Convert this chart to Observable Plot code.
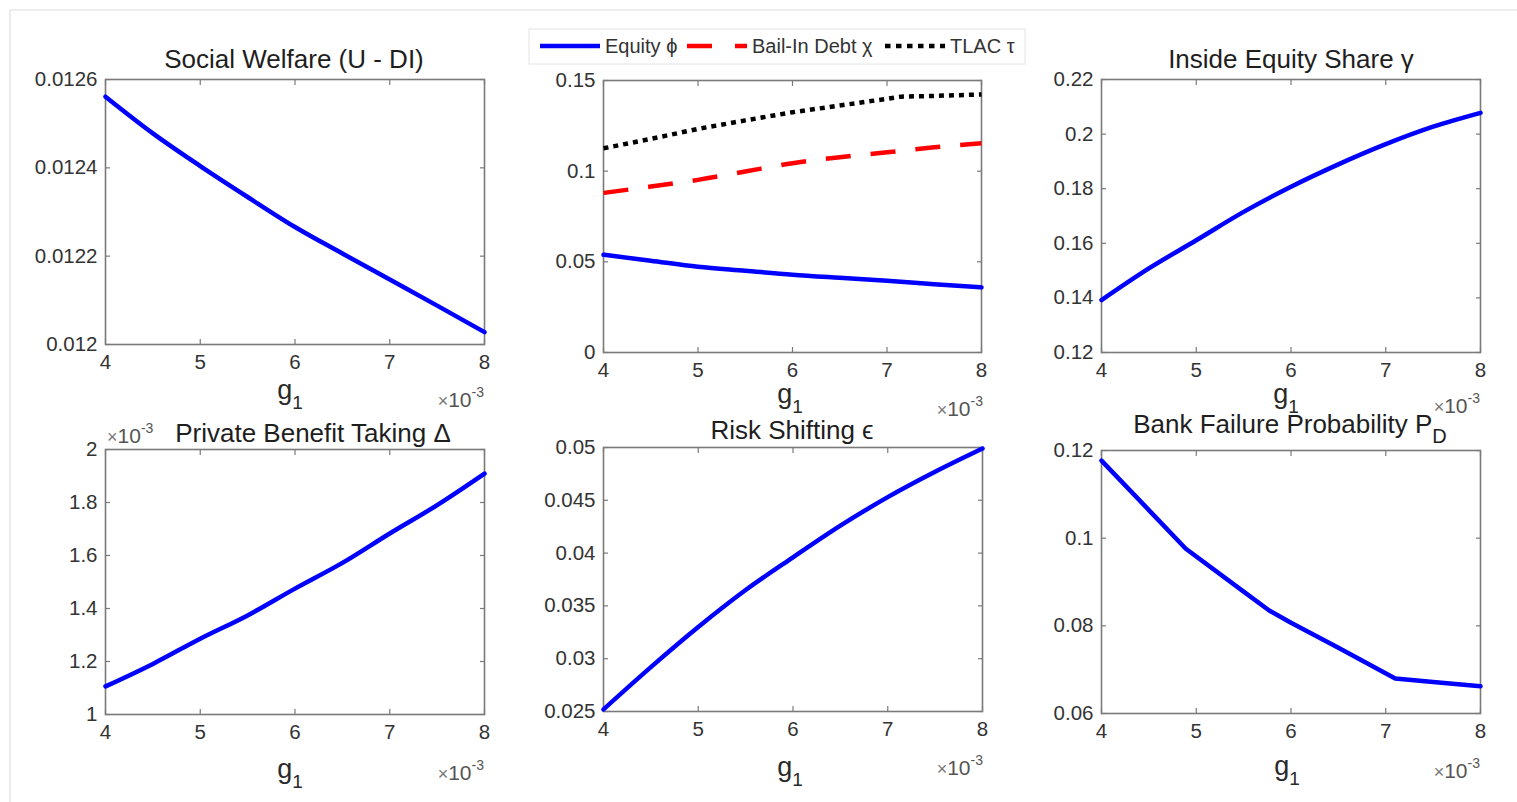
<!DOCTYPE html>
<html><head><meta charset="utf-8">
<script src="https://cdn.jsdelivr.net/npm/d3@7"></script>
<script src="https://cdn.jsdelivr.net/npm/@observablehq/plot@0.6"></script>
<style>
body{margin:0;background:#fff;}
#page{position:relative;width:1517px;height:802px;overflow:hidden;background:#fff;font-family:"Liberation Sans",Arial,sans-serif;}
#overlay{position:absolute;left:0;top:0;}
</style></head><body><div id="page"></div>
<script>
// ---- data (g1 values) ----
const g1 = [0.004, 0.0045, 0.005, 0.0055, 0.006, 0.0065, 0.007, 0.0075, 0.008];
const xTicks = [0.004, 0.005, 0.006, 0.007, 0.008];

const welfare = [0.012561, 0.012478, 0.012404, 0.012334, 0.012266, 0.012206, 0.012147, 0.012088, 0.012028];

const equity = [0.0539, 0.0506, 0.0473, 0.0451, 0.0429, 0.0412, 0.0396, 0.0377, 0.0359];
const bailIn = [0.0880, 0.0915, 0.0952, 0.0998, 0.1044, 0.1077, 0.1104, 0.1132, 0.1154];
const g1Tlac = [0.004, 0.0045, 0.005, 0.0055, 0.006, 0.0065, 0.007, 0.00715, 0.0075, 0.008];
const tlac   = [0.1126, 0.1178, 0.1233, 0.1280, 0.1325, 0.1362, 0.1399, 0.1411, 0.1415, 0.1423];

const insideShare = [0.1392, 0.1508, 0.1611, 0.1715, 0.1807, 0.1889, 0.1963, 0.2027, 0.2078];

const privateBenefit = [0.001106, 0.001191, 0.001286, 0.001374, 0.001475, 0.001572, 0.001683, 0.001790, 0.001909];

const riskShift = [0.0252, 0.0292, 0.0330, 0.0365, 0.0396, 0.0426, 0.0453, 0.0477, 0.0499];

const g1Fail = [0.004, 0.0045, 0.00489, 0.0055, 0.00577, 0.006, 0.0065, 0.0071, 0.0075, 0.008];
const failureProb = [0.1177, 0.1064, 0.0976, 0.0878, 0.0835, 0.0807, 0.0750, 0.0680, 0.0672, 0.0662];

const ticksWelfare = [0.012, 0.0122, 0.0124, 0.0126];
const ticksMix = [0, 0.05, 0.1, 0.15];
const ticksShare = [0.12, 0.14, 0.16, 0.18, 0.2, 0.22];
const ticksBenefit = [0.001, 0.0012, 0.0014, 0.0016, 0.0018, 0.002];
const ticksRisk = [0.025, 0.03, 0.035, 0.04, 0.045, 0.05];
const ticksFail = [0.06, 0.08, 0.1, 0.12];

const legendLabels = ["Equity \u03D5", "Bail-In Debt \u03C7", "TLAC \u03C4"];
const titles = ["Social Welfare (U - DI)", "Inside Equity Share \u03B3", "Private Benefit Taking \u0394", "Risk Shifting \u03F5", "Bank Failure Probability P"];

// ---- drawing ----
const FONT = '"Liberation Sans", Arial, sans-serif';
const AXIS = "#7a7a7a";
const page = document.getElementById("page");
const zip = (xs, ys) => xs.map((x, i) => ({x, y: ys[i]}));
const fmtNum = d => String(+d.toFixed(6));

function panel({box, yDomain, yTicks, yFormat, series}) {
  const [L, T, R, B] = box;
  const mL = 90, mR = 20, mT = 12, mB = 40;
  const tickOpts = {tickFormat: () => "", label: null, stroke: AXIS, strokeWidth: 1.2};
  const chart = Plot.plot({
    width: R - L + mL + mR, height: B - T + mT + mB,
    marginLeft: mL, marginRight: mR, marginTop: mT, marginBottom: mB,
    style: {fontFamily: FONT, fontSize: "20.5px", color: "#333", background: "transparent", overflow: "visible"},
    x: {domain: [0.004, 0.008]},
    y: {domain: yDomain},
    marks: [
      Plot.axisX(xTicks, {tickSize: 0, tickPadding: 10, tickFormat: d => String(Math.round(d * 1000)), label: null}),
      Plot.axisY(yTicks, {tickSize: 0, tickPadding: 8, tickFormat: yFormat, label: null}),
      Plot.axisX(xTicks, {anchor: "bottom", tickSize: -5, ...tickOpts}),
      Plot.axisX(xTicks, {anchor: "top", tickSize: -5, ...tickOpts}),
      Plot.axisY(yTicks, {anchor: "left", tickSize: -5, ...tickOpts}),
      Plot.axisY(yTicks, {anchor: "right", tickSize: -5, ...tickOpts}),
      Plot.frame({stroke: AXIS, strokeWidth: 1.6}),
      ...series.map(s => Plot.line(zip(s.x, s.y), {x: "x", y: "y", stroke: s.color, strokeWidth: 4.5, strokeDasharray: s.dash, strokeLinecap: s.cap || "round", strokeLinejoin: "round", curve: s.curve || "linear"}))
    ]
  });
  chart.style.position = "absolute";
  chart.style.left = (L - mL) + "px";
  chart.style.top = (T - mT) + "px";
  page.appendChild(chart);
}

panel({box: [105, 79, 484, 344], yDomain: [0.012, 0.0126], yTicks: ticksWelfare, yFormat: fmtNum,
  series: [{x: g1, y: welfare, color: "#0000ff", curve: "monotone-x"}]});
panel({box: [603, 80, 981, 352], yDomain: [0, 0.15], yTicks: ticksMix, yFormat: fmtNum,
  series: [
    {x: g1, y: equity, color: "#0000ff", curve: "monotone-x"},
    {x: g1, y: bailIn, color: "#ff0000", dash: "25,20", cap: "butt", curve: "monotone-x"},
    {x: g1Tlac, y: tlac, color: "#000000", dash: "5,5", cap: "butt"}
  ]});
panel({box: [1101, 79, 1480, 352], yDomain: [0.12, 0.22], yTicks: ticksShare, yFormat: fmtNum,
  series: [{x: g1, y: insideShare, color: "#0000ff", curve: "monotone-x"}]});
panel({box: [105, 449, 484, 714], yDomain: [0.001, 0.002], yTicks: ticksBenefit, yFormat: d => String(+(d * 1000).toFixed(2)),
  series: [{x: g1, y: privateBenefit, color: "#0000ff", curve: "monotone-x"}]});
panel({box: [603, 447, 982, 711], yDomain: [0.025, 0.05], yTicks: ticksRisk, yFormat: fmtNum,
  series: [{x: g1, y: riskShift, color: "#0000ff", curve: "monotone-x"}]});
panel({box: [1101, 450, 1480, 713], yDomain: [0.06, 0.12], yTicks: ticksFail, yFormat: fmtNum,
  series: [{x: g1Fail, y: failureProb, color: "#0000ff"}]});

// ---- text overlay: titles, axis labels, exponents, legend ----
const svg = d3.select(page).append("svg").attr("id", "overlay")
  .attr("width", 1517).attr("height", 802)
  .style("font-family", FONT);

svg.append("path").attr("d", "M10,802V10H1517").attr("fill", "none").attr("stroke", "#dedede").attr("stroke-width", 1.2);

const titleSpecs = [
  {x: 294, y: 68, t: titles[0]},
  {x: 1291, y: 68, t: titles[1]},
  {x: 313, y: 442, t: titles[2]},
  {x: 792, y: 439, t: titles[3]},
  {x: 1290, y: 433, t: titles[4], sub: "D"}
];
titleSpecs.forEach(s => {
  const t = svg.append("text").attr("x", s.x).attr("y", s.y).attr("text-anchor", "middle")
    .attr("font-size", 26).attr("fill", "#1e1e1e").text(s.t);
  if (s.sub) t.append("tspan").attr("dy", 10).attr("font-size", 20).text(s.sub);
});

const g1Specs = [[290, 399], [790, 403], [1286, 403], [290, 778], [790, 776], [1287, 775]];
g1Specs.forEach(([x, y]) => {
  const t = svg.append("text").attr("x", x).attr("y", y).attr("text-anchor", "middle")
    .attr("font-size", 27).attr("fill", "#2a2a2a").text("g");
  t.append("tspan").attr("dy", 10).attr("font-size", 19).text("1");
});

const expSpecs = [[484, 407, "end"], [983, 416, "end"], [1480, 413, "end"], [484, 780, "end"], [983, 775, "end"], [1480, 778, "end"], [107, 443, "start"]];
expSpecs.forEach(([x, y, a]) => {
  const t = svg.append("text").attr("x", x).attr("y", y).attr("text-anchor", a)
    .attr("font-size", 21).attr("fill", "#555");
  t.append("tspan").attr("font-size", 18).attr("fill", "#777").text("\u00D7");
  t.append("tspan").text("10");
  t.append("tspan").attr("dy", -10).attr("font-size", 14).text("-3");
});

// legend
const lg = svg.append("g");
lg.append("rect").attr("x", 529).attr("y", 29).attr("width", 496).attr("height", 35)
  .attr("fill", "#fff").attr("stroke", "#e4e4e4").attr("stroke-width", 1);
const legendItems = [
  {x: 540, color: "#0000ff", dash: null},
  {x: 687, color: "#ff0000", dash: "25,23"},
  {x: 885, color: "#000000", dash: "5.5,5.5"}
];
legendItems.forEach((it, i) => {
  lg.append("line").attr("x1", it.x).attr("x2", it.x + 60).attr("y1", 46).attr("y2", 46)
    .attr("stroke", it.color).attr("stroke-width", 4.5).attr("stroke-dasharray", it.dash);
  lg.append("text").attr("x", it.x + 65).attr("y", 53).attr("font-size", 20)
    .attr("fill", "#333").text(legendLabels[i]);
});
</script></body></html>
